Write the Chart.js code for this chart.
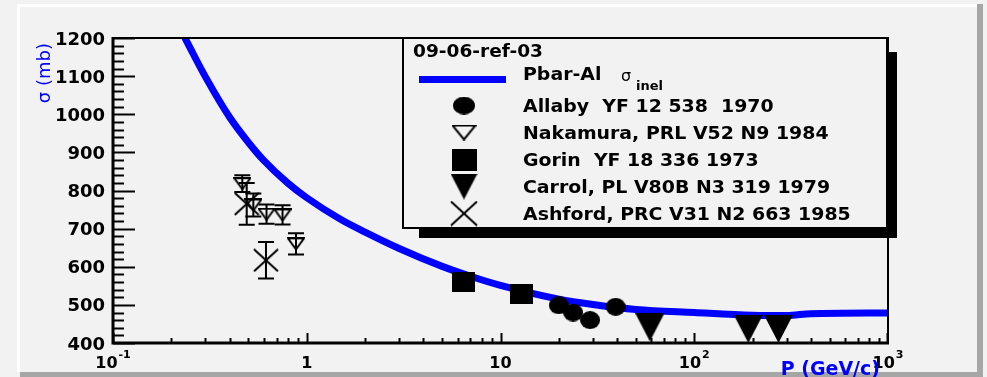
<!DOCTYPE html>
<html>
<head>
<meta charset="utf-8">
<script src="https://cdn.jsdelivr.net/npm/chart.js"></script>
<style>
  html, body { margin: 0; padding: 0; background: #f2f2f2; }
  canvas { display: block; }
</style>
</head>
<body>
<canvas id="sigmaChart" width="987" height="377"></canvas>
<script>
// Pbar-Al inelastic cross section curve: momentum (GeV/c) and sigma (mb)
const curveP = [0.2, 0.25, 0.3, 0.4, 0.5, 0.6, 0.8, 1, 1.5, 2, 3, 5, 7, 10, 20, 30, 50, 100, 200, 300, 400, 1000];
const curveSigma = [1270, 1174, 1098, 992, 926, 879, 819, 781, 724, 691, 648, 601, 575, 551, 515, 501, 488, 480, 473, 472, 477, 479];

// measurements
const allabyP = [20, 23.7, 29, 39.3];
const allabySigma = [499, 480, 460, 495];

const nakamuraP = [0.465, 0.53, 0.62, 0.75, 0.88];
const nakamuraSigma = [818, 762, 738, 736, 660];
const nakamuraErr = [22, 30, 25, 25, 28];

const gorinP = [6.45, 12.9];
const gorinSigma = [560, 528];

const carrolP = [59, 190, 272];
const carrolSigma = [441, 437, 437];

const ashfordP = [0.49, 0.616];
const ashfordSigma = [765, 617];
const ashfordErr = [55, 48];

// axes
const yTickValues = [400, 500, 600, 700, 800, 900, 1000, 1100, 1200];
const yTickLabels = ['400', '500', '600', '700', '800', '900', '1000', '1100', '1200'];
const xTickValues = [0.1, 1, 10, 100, 1000];
const xTickBase = ['10', '1', '10', '10', '10'];
const xTickExp = ['-1', '', '', '2', '3'];

const legendHeader = '09-06-ref-03';
const legendLabels = [
  'Pbar-Al',
  'Allaby  YF 12 538  1970',
  'Nakamura, PRL V52 N9 1984',
  'Gorin  YF 18 336 1973',
  'Carrol, PL V80B N3 319 1979',
  'Ashford, PRC V31 N2 663 1985'
];

const FONT = '"DejaVu Sans", sans-serif';
const BLUE = '#0000ff';

function toXY(xs, ys) {
  return xs.map((x, i) => ({ x: x, y: ys[i] }));
}

// small offscreen canvases used as point styles (ROOT-like markers)
function markerCanvas(kind, w, h) {
  const c = document.createElement('canvas');
  c.width = w;
  c.height = h;
  const g = c.getContext('2d');
  g.fillStyle = '#000';
  g.strokeStyle = '#000';
  g.lineWidth = 2;
  g.beginPath();
  if (kind === 'circle') {
    g.ellipse(w / 2, h / 2, w / 2, h / 2, 0, 0, Math.PI * 2);
    g.fill();
  } else if (kind === 'square') {
    g.fillRect(0, 0, w, h);
  } else if (kind === 'triDown') {
    g.moveTo(0, 0); g.lineTo(w, 0); g.lineTo(w / 2, h); g.closePath();
    g.fill();
  } else if (kind === 'triDownOpen') {
    g.moveTo(1, 1); g.lineTo(w - 1, 1); g.lineTo(w / 2, h - 1); g.closePath();
    g.stroke();
  } else if (kind === 'cross') {
    g.moveTo(1, 1); g.lineTo(w - 1, h - 1);
    g.moveTo(w - 1, 1); g.lineTo(1, h - 1);
    g.stroke();
  }
  return c;
}

const marks = {
  circle: markerCanvas('circle', 20, 18),
  openTri: markerCanvas('triDownOpen', 18, 13),
  square: markerCanvas('square', 23, 20),
  tri: markerCanvas('triDown', 29, 28),
  cross: markerCanvas('cross', 26, 24)
};
const legendMarks = [
  null,
  markerCanvas('circle', 22, 18),
  markerCanvas('triDownOpen', 25, 16),
  markerCanvas('square', 25, 22),
  markerCanvas('triDown', 27, 26),
  markerCanvas('cross', 28, 26)
];

// canvas background with the bevelled pad border
const padPlugin = {
  id: 'padBackground',
  beforeDraw(chart) {
    const ctx = chart.ctx;
    ctx.save();
    ctx.fillStyle = '#f2f2f2';
    ctx.fillRect(0, 0, chart.width, chart.height);
    ctx.fillStyle = '#ffffff';
    ctx.fillRect(17, 4, 960, 3);
    ctx.fillRect(17, 4, 3, 368);
    ctx.fillStyle = '#a6a6a6';
    ctx.fillRect(977, 4, 6, 373);
    ctx.fillRect(20, 372, 963, 5);
    ctx.restore();
  }
};

// vertical error bars with end caps
const errorBarPlugin = {
  id: 'errorBars',
  afterDatasetsDraw(chart) {
    const ctx = chart.ctx;
    const xs = chart.scales.x, ys = chart.scales.y;
    ctx.save();
    ctx.strokeStyle = '#000';
    ctx.lineWidth = 2;
    chart.data.datasets.forEach(ds => {
      if (!ds.errY) return;
      ds.data.forEach((p, i) => {
        const px = xs.getPixelForValue(p.x);
        const top = ys.getPixelForValue(p.y + ds.errY[i]);
        const bot = ys.getPixelForValue(p.y - ds.errY[i]);
        ctx.beginPath();
        ctx.moveTo(px, top); ctx.lineTo(px, bot);
        ctx.moveTo(px - 8, top); ctx.lineTo(px + 8, top);
        ctx.moveTo(px - 8, bot); ctx.lineTo(px + 8, bot);
        ctx.stroke();
      });
    });
    ctx.restore();
  }
};

// frame, inward ticks, tick labels and axis titles
const framePlugin = {
  id: 'rootFrame',
  afterDatasetsDraw(chart) {
    const ctx = chart.ctx;
    const a = chart.chartArea;
    const xs = chart.scales.x, ys = chart.scales.y;
    ctx.save();
    ctx.strokeStyle = '#000';

    ctx.lineWidth = 2;
    ctx.beginPath();
    ctx.moveTo(a.left, a.top); ctx.lineTo(a.right, a.top); ctx.lineTo(a.right, a.bottom);
    ctx.stroke();

    ctx.lineWidth = 3;
    ctx.beginPath();
    ctx.moveTo(a.left, a.top - 1); ctx.lineTo(a.left, a.bottom); ctx.lineTo(a.right + 1, a.bottom);
    ctx.stroke();

    // y ticks every 20 mb, long at every 100
    ctx.lineWidth = 2;
    ctx.beginPath();
    for (let v = ys.min; v <= ys.max; v += 20) {
      const py = Math.round(ys.getPixelForValue(v)) + 0.5;
      const len = (v % 100 === 0) ? 22 : 11;
      ctx.moveTo(a.left, py); ctx.lineTo(a.left + len, py);
    }
    ctx.stroke();

    // x ticks per decade
    ctx.beginPath();
    for (let d = 0.1; d < 1000; d *= 10) {
      for (let m = 1; m <= 9; m++) {
        const px = Math.round(xs.getPixelForValue(d * m)) + 0.5;
        const len = m === 1 ? 10 : 5;
        ctx.moveTo(px, a.bottom); ctx.lineTo(px, a.bottom - len);
      }
    }
    const pEnd = Math.round(xs.getPixelForValue(1000)) - 0.5;
    ctx.moveTo(pEnd, a.bottom); ctx.lineTo(pEnd, a.bottom - 10);
    ctx.stroke();

    // y tick labels
    ctx.fillStyle = '#000';
    ctx.font = 'bold 18px ' + FONT;
    ctx.textAlign = 'right';
    ctx.textBaseline = 'alphabetic';
    yTickValues.forEach((v, i) => {
      ctx.fillText(yTickLabels[i], a.left - 8, ys.getPixelForValue(v) + 6.5);
    });

    // x tick labels with exponents
    ctx.textAlign = 'left';
    xTickValues.forEach((v, i) => {
      const px = xs.getPixelForValue(v);
      ctx.font = 'bold 16px ' + FONT;
      const wb = ctx.measureText(xTickBase[i]).width;
      ctx.font = 'bold 11px ' + FONT;
      const we = xTickExp[i] ? ctx.measureText(xTickExp[i]).width + 1 : 0;
      const x0 = px - (wb + we) / 2;
      ctx.font = 'bold 16px ' + FONT;
      ctx.fillText(xTickBase[i], x0, 368);
      if (xTickExp[i]) {
        ctx.font = 'bold 11px ' + FONT;
        ctx.fillText(xTickExp[i], x0 + wb + 1, 358);
      }
    });

    // axis titles
    ctx.fillStyle = BLUE;
    ctx.font = 'bold 19px ' + FONT;
    ctx.textAlign = 'right';
    ctx.fillText('P (GeV/c)', 880, 375);

    ctx.save();
    ctx.translate(50, 43);
    ctx.rotate(-Math.PI / 2);
    ctx.font = '18px ' + FONT;
    ctx.textAlign = 'right';
    ctx.fillText('\u03c3 (mb)', 0, 0);
    ctx.restore();

    ctx.restore();
  }
};

function stretchedText(ctx, str, x, y, sx) {
  ctx.save();
  ctx.translate(x, y);
  ctx.scale(sx, 1);
  ctx.fillText(str, 0, 0);
  ctx.restore();
}

// legend box with shadow
const legendPlugin = {
  id: 'rootLegend',
  afterDraw(chart) {
    const ctx = chart.ctx;
    const L = 403, T = 38, R = 887, B = 228;
    ctx.save();
    ctx.fillStyle = '#000';
    ctx.fillRect(R, T + 14, 10, B - T - 4);
    ctx.fillRect(L + 16, B, R - L - 6, 10);
    ctx.fillStyle = '#f2f2f2';
    ctx.fillRect(L, T, R - L, B - T);
    ctx.strokeStyle = '#000';
    ctx.lineWidth = 2;
    ctx.strokeRect(L, T, R - L, B - T);

    ctx.fillStyle = '#000';
    ctx.textAlign = 'left';
    ctx.textBaseline = 'alphabetic';
    ctx.font = 'bold 18px ' + FONT;
    stretchedText(ctx, legendHeader, 413, 57, 1.03);

    const baselines = [80, 111.5, 138.5, 165.5, 192.5, 219.5];
    // curve sample
    ctx.fillStyle = BLUE;
    ctx.fillRect(419, 76, 87, 7);

    ctx.fillStyle = '#000';
    legendLabels.forEach((lab, i) => {
      ctx.font = 'bold 18px ' + FONT;
      stretchedText(ctx, lab, 523, baselines[i], 1.05);
      const m = legendMarks[i];
      if (m) ctx.drawImage(m, 464 - m.width / 2, baselines[i] - 6 - m.height / 2);
    });

    // sigma_inel beside the curve entry
    ctx.font = '16px ' + FONT;
    ctx.fillText('\u03c3', 621, 81);
    ctx.font = 'bold 13px ' + FONT;
    ctx.fillText('inel', 636, 90);
    ctx.restore();
  }
};

const ctx = document.getElementById('sigmaChart');
new Chart(ctx, {
  type: 'scatter',
  data: {
    datasets: [
      { label: 'Allaby', data: toXY(allabyP, allabySigma), pointStyle: marks.circle, pointRadius: 10 },
      { label: 'Nakamura', data: toXY(nakamuraP, nakamuraSigma), errY: nakamuraErr, pointStyle: marks.openTri, pointRadius: 10 },
      { label: 'Gorin', data: toXY(gorinP, gorinSigma), pointStyle: marks.square, pointRadius: 10 },
      { label: 'Carrol', data: toXY(carrolP, carrolSigma), pointStyle: marks.tri, pointRadius: 14, clip: false },
      { label: 'Ashford', data: toXY(ashfordP, ashfordSigma), errY: ashfordErr, pointStyle: marks.cross, pointRadius: 12 },
      {
        label: 'Pbar-Al',
        data: toXY(curveP, curveSigma),
        showLine: true,
        borderColor: BLUE,
        borderWidth: 7,
        pointRadius: 0,
        cubicInterpolationMode: 'monotone',
        clip: 0,
        order: 1
      }
    ]
  },
  options: {
    responsive: false,
    animation: false,
    devicePixelRatio: 1,
    events: [],
    layout: { padding: { left: 113, top: 38, right: 99, bottom: 34 } },
    plugins: { legend: { display: false }, tooltip: { enabled: false } },
    scales: {
      x: {
        type: 'logarithmic',
        min: 0.1,
        max: 1000,
        ticks: { display: false },
        grid: { display: false },
        border: { display: false },
        afterFit: s => { s.height = 0; }
      },
      y: {
        type: 'linear',
        min: 400,
        max: 1200,
        ticks: { display: false },
        grid: { display: false },
        border: { display: false },
        afterFit: s => { s.width = 0; }
      }
    }
  },
  plugins: [padPlugin, errorBarPlugin, framePlugin, legendPlugin]
});
</script>
</body>
</html>
